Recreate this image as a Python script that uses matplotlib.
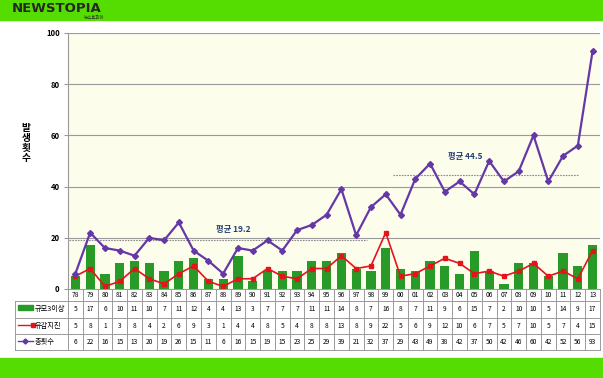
import numpy as np
import matplotlib
matplotlib.use("Agg")
import matplotlib.pyplot as plt
from matplotlib.patches import Rectangle

plt.rcParams["font.family"] = ["Noto Sans CJK KR", "DejaVu Sans"]

# --------------------------
# data
# --------------------------
years = ["78", "79", "80", "81", "82", "83", "84", "85", "86", "87", "88", "89",
         "90", "91", "92", "93", "94", "95", "96", "97", "98", "99", "00", "01",
         "02", "03", "04", "05", "06", "07", "08", "09", "10", "11", "12", "13"]
mag3 = [5, 17, 6, 10, 11, 10, 7, 11, 12, 4, 4, 13, 3, 7, 7, 7, 11, 11, 14, 8,
        7, 16, 8, 7, 11, 9, 6, 15, 7, 2, 10, 10, 5, 14, 9, 17]
felt = [5, 8, 1, 3, 8, 4, 2, 6, 9, 3, 1, 4, 4, 8, 5, 4, 8, 8, 13, 8, 9, 22, 5,
        6, 9, 12, 10, 6, 7, 5, 7, 10, 5, 7, 4, 15]
total = [6, 22, 16, 15, 13, 20, 19, 26, 15, 11, 6, 16, 15, 19, 15, 23, 25, 29,
         39, 21, 32, 37, 29, 43, 49, 38, 42, 37, 50, 42, 46, 60, 42, 52, 56, 93]
row_names = ["규모3이상", "유감지진", "총횟수"]
y_title = "발생횟수"
avg1 = 19.2   # 78-98
avg2 = 44.5   # 99-12

GREEN = "#279a27"
RED = "#e3141b"
PURPLE = "#6438a6"
BAND = "#55dc00"
GRID = "#9a9a9a"

W, H = 603, 378
fig = plt.figure(figsize=(W / 100, H / 100), dpi=100)
fig.patch.set_facecolor("white")

# green bands top / bottom
fig.patches.append(Rectangle((0, 1 - 20 / H), 1, 20 / H, transform=fig.transFigure,
                             color=BAND, zorder=0))
fig.patches.append(Rectangle((0, 0), 1, 20 / H, transform=fig.transFigure,
                             color=BAND, zorder=0))
fig.text(12 / W, 1 - 9 / H, "NEWSTOPIA", fontsize=9.5, fontweight="bold",
         color="#262626", va="center", ha="left", family="DejaVu Sans")
fig.text(84 / W, 1 - 17.5 / H, "뉴스토피아", fontsize=3.2, color="#262626",
         va="center", ha="left")

# --------------------------
# main chart
# --------------------------
L, R, T, B = 68, 600, 33, 289
ax = fig.add_axes([L / W, 1 - B / H, (R - L) / W, (B - T) / H])
ax.set_facecolor("#fdfdec")
x = np.arange(len(years))

ax.bar(x, mag3, width=0.62, color=GREEN, zorder=2)
ax.plot(x, felt, color=RED, lw=1.2, marker="s", ms=2.6, zorder=3)
ax.plot(x, total, color=PURPLE, lw=1.6, marker="D", ms=3, zorder=4)

ax.set_xlim(-0.5, len(years) - 0.5)
ax.set_ylim(0, 100)
ax.set_yticks([0, 20, 40, 60, 80, 100])
ax.set_xticks([])
ax.tick_params(axis="y", labelsize=5.5, length=3, color=GRID, pad=3)
for lab in ax.get_yticklabels():
    lab.set_fontweight("bold")
ax.grid(axis="y", color=GRID, lw=0.8, zorder=1)
for s in ["top", "right", "bottom"]:
    ax.spines[s].set_visible(False)
ax.spines["left"].set_color(GRID)
ax.spines["left"].set_linewidth(0.8)

# average lines
ax.plot([-0.4, 19.7], [avg1, avg1], color="#8a8a8a", lw=0.8, ls=(0, (1.5, 1)), zorder=1.5)
ax.plot([21.5, 34.0], [avg2, avg2], color="#8a8a8a", lw=0.8, ls=(0, (1.5, 1)), zorder=1.5)
ax.text(9.5, avg1 + 2.2, f"평균 {avg1}", fontsize=6, fontweight="bold",
        color="#23407a", ha="left", va="bottom")
ax.text(25.2, avg2 + 5.5, f"평균 {avg2}", fontsize=6, fontweight="bold",
        color="#23407a", ha="left", va="bottom")

# vertical (stacked) axis title
for k, ch in enumerate(y_title):
    fig.text(26 / W, 1 - (128 + k * 10) / H, ch, fontsize=7, fontweight="bold",
             ha="center", va="center")

# --------------------------
# data table under the chart
# --------------------------
TB = 350
tax = fig.add_axes([L / W, 1 - TB / H, (R - L) / W, (TB - B) / H])
tax.set_xlim(-0.5, len(years) - 0.5)
tax.set_ylim(TB, B)
tax.axis("off")


def px2x(px):
    return -0.5 + (px - L) / ((R - L) / len(years))


left = px2x(15)
row_y = [301, 318, 334, 350]
kw = dict(color=GRID, lw=0.7, clip_on=False)
tax.plot([-0.5, len(years) - 0.5], [B + 0.5, B + 0.5], **kw)
for y in row_y:
    tax.plot([left, len(years) - 0.5], [y, y], **kw)
for i in range(len(years) + 1):
    tax.plot([i - 0.5, i - 0.5], [B, TB], **kw)
tax.plot([left, left], [row_y[0], TB], **kw)

for i, yr in enumerate(years):
    tax.text(i, (B + row_y[0]) / 2, yr, fontsize=4.8, ha="center", va="center")
for r, vals in enumerate([mag3, felt, total]):
    yc = (row_y[r] + row_y[r + 1]) / 2
    for i, v in enumerate(vals):
        tax.text(i, yc, str(v), fontsize=4.8, ha="center", va="center")

# legend keys in the label column
yc = [(row_y[r] + row_y[r + 1]) / 2 for r in range(3)]
tax.add_patch(Rectangle((px2x(18), yc[0] - 4), px2x(33) - px2x(18), 5,
                        color=GREEN, clip_on=False))
tax.plot([px2x(18), px2x(33)], [yc[1] - 1, yc[1] - 1], color=RED, lw=1.0,
         marker="s", ms=2.4, markevery=[1], clip_on=False)
tax.plot([px2x(18), px2x(25), px2x(33)], [yc[2] - 1] * 3, color=PURPLE, lw=1.0,
         marker="D", ms=2.6, markevery=[1], clip_on=False)
for r, name in enumerate(row_names):
    tax.text(px2x(35), yc[r], name, fontsize=5.2, ha="left", va="center")

fig.savefig("out.png", dpi=100)
